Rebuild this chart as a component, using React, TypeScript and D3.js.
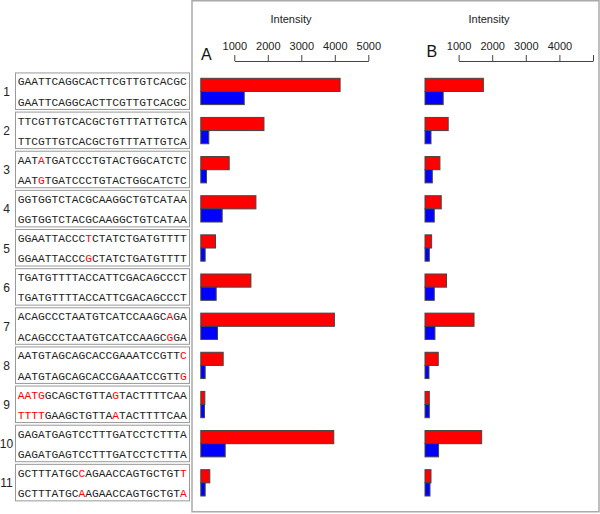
import React, { useEffect, useRef } from 'react'
import * as d3 from 'd3'

const rowIds = ['1', '2', '3', '4', '5', '6', '7', '8', '9', '10', '11']

const seqTop = [
  'GAATTCAGGCACTTCGTTGTCACGC',
  'TTCGTTGTCACGCTGTTTATTGTCA',
  'AATATGATCCCTGTACTGGCATCTC',
  'GGTGGTCTACGCAAGGCTGTCATAA',
  'GGAATTACCCTCTATCTGATGTTTT',
  'TGATGTTTTACCATTCGACAGCCCT',
  'ACAGCCCTAATGTCATCCAAGCAGA',
  'AATGTAGCAGCACCGAAATCCGTTC',
  'AATGGCAGCTGTTAGTACTTTTCAA',
  'GAGATGAGTCCTTTGATCCTCTTTA',
  'GCTTTATGCCAGAACCAGTGCTGTT',
]
const seqBottom = [
  'GAATTCAGGCACTTCGTTGTCACGC',
  'TTCGTTGTCACGCTGTTTATTGTCA',
  'AATGTGATCCCTGTACTGGCATCTC',
  'GGTGGTCTACGCAAGGCTGTCATAA',
  'GGAATTACCCGCTATCTGATGTTTT',
  'TGATGTTTTACCATTCGACAGCCCT',
  'ACAGCCCTAATGTCATCCAAGCGGA',
  'AATGTAGCAGCACCGAAATCCGTTG',
  'TTTTGAAGCTGTTAATACTTTTCAA',
  'GAGATGAGTCCTTTGATCCTCTTTA',
  'GCTTTATGCAAGAACCAGTGCTGTA',
]
// positions of mismatched bases (drawn red), same for both strands
const mismatches = [[], [], [3], [], [10], [], [22], [24], [0, 1, 2, 3, 14], [], [9, 24]]

const panelARed = [4158, 1885, 847, 1645, 439, 1496, 3988, 668, 120, 3969, 269]
const panelABlue = [1296, 239, 170, 638, 130, 459, 499, 130, 110, 728, 130]
const panelBRed = [1737, 690, 444, 483, 197, 641, 1459, 394, 128, 1686, 178]
const panelBBlue = [541, 178, 217, 276, 128, 276, 296, 118, 128, 404, 148]

const tickValues = [1000, 2000, 3000, 4000, 5000]

const App = () => {
  const ref = useRef(null)

  useEffect(() => {
    const svg = d3.select(ref.current)
    svg.selectAll('*').remove()

    const sans = 'Liberation Sans, Arial, sans-serif'

    const y = d3.scaleBand().domain(rowIds).range([78.3, 496]).paddingInner(0.328)
    const sub = d3.scaleBand().domain(['red', 'blue']).range([0, y.bandwidth()])

    // panel frame
    svg.append('rect')
      .attr('x', 192).attr('y', 0.75).attr('width', 407).attr('height', 511)
      .attr('fill', 'none').attr('stroke', '#aaa').attr('stroke-width', 1.5)

    // sequence boxes
    const rows = svg.append('g').selectAll('g').data(rowIds).enter().append('g')
      .attr('transform', d => `translate(0, ${y(d) + y.bandwidth() / 2})`)

    rows.append('rect')
      .attr('x', 15.5).attr('y', -18.5).attr('width', 174).attr('height', 36.5)
      .attr('fill', 'none').attr('stroke', '#999').attr('stroke-width', 1)

    rows.append('text')
      .attr('x', 6.5).attr('y', 4.5)
      .attr('text-anchor', 'middle')
      .style('font-family', sans).style('font-size', '12px').style('fill', '#222')
      .text(d => d)

    const drawSeq = (sel, seqs, dy) => {
      sel.append('text')
        .attr('x', 17.7).attr('y', dy)
        .attr('textLength', 169).attr('lengthAdjust', 'spacingAndGlyphs')
        .style('font-family', 'Liberation Mono, Courier New, monospace')
        .style('font-size', '11.2px')
        .each(function (d, i) {
          const s = seqs[i]
          const red = mismatches[i]
          d3.select(this).selectAll('tspan')
            .data(s.split(''))
            .enter().append('tspan')
            .style('fill', (c, j) => (red.includes(j) ? '#ff0000' : '#222'))
            .text(c => c)
        })
    }
    drawSeq(rows, seqTop, -6)
    drawSeq(rows, seqBottom, 14.3)

    const drawPanel = (x0, x5000, label, labelX, labelY, introX, redVals, blueVals, showLast) => {
      const x = d3.scaleLinear().domain([0, 5000]).range([x0, x5000])
      const axisScale = d3.scaleLinear().domain([1000, 5000]).range([x(1000), x(5000)])

      const g = svg.append('g')

      const ax = g.append('g')
        .attr('transform', 'translate(0, 61)')
        .call(d3.axisTop(axisScale).tickValues(tickValues).tickSize(6).tickSizeOuter(0).tickPadding(5)
          .tickFormat(v => (v === 5000 && !showLast ? '' : d3.format('d')(v))))
      ax.selectAll('path, line').attr('stroke', '#444')
      ax.selectAll('text').style('font-family', sans).style('font-size', '11px').attr('fill', '#222')

      g.append('text')
        .attr('x', introX).attr('y', 22.5).attr('text-anchor', 'middle')
        .style('font-family', sans).style('font-size', '11px').style('fill', '#222')
        .text('Intensity')

      g.append('text')
        .attr('x', labelX).attr('y', labelY)
        .style('font-family', sans).style('font-size', '16px').style('fill', '#111')
        .text(label)

      const bars = g.append('g')
      bars.selectAll('.red').data(rowIds).enter().append('rect')
        .attr('x', x(0)).attr('y', d => y(d) + sub('red'))
        .attr('width', (d, i) => x(redVals[i]) - x(0)).attr('height', sub.bandwidth())
        .attr('fill', '#ff0000').attr('stroke', '#444').attr('stroke-width', 1)
      bars.selectAll('.blue').data(rowIds).enter().append('rect')
        .attr('x', x(0)).attr('y', d => y(d) + sub('blue'))
        .attr('width', (d, i) => x(blueVals[i]) - x(0)).attr('height', sub.bandwidth())
        .attr('fill', '#0000ff').attr('stroke', '#444').attr('stroke-width', 1)
    }

    drawPanel(200.8, 368.3, 'A', 201, 60, 291, panelARed, panelABlue, true)
    drawPanel(425, 593, 'B', 426.5, 57, 489, panelBRed, panelBBlue, false)
  }, [])

  return (
    <svg ref={ref} width={600} height={514}
      style={{ position: 'absolute', left: 0, top: 0, background: '#fff' }} />
  )
}

export default App
